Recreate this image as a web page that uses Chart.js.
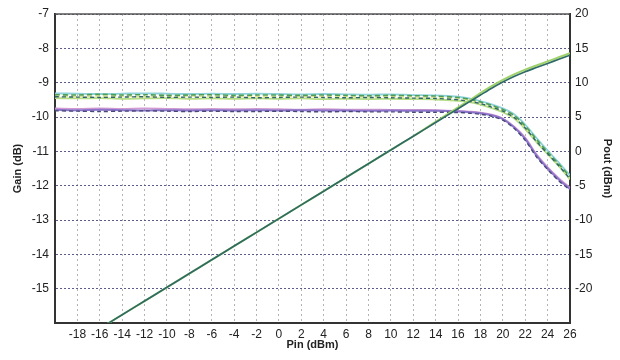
<!DOCTYPE html>
<html>
<head>
<meta charset="utf-8">
<script src="https://cdn.jsdelivr.net/npm/chart.js@4"></script>
<style>
body{margin:0;background:#fff}
#c{display:block}
</style>
</head>
<body>
<canvas id="c" width="620" height="360"></canvas>
<script>
// input power sweep (dBm)
const pin=[-20,-18,-16,-14,-12,-10,-8,-6,-4,-2,0,2,4,6,8,10,12,14,16,17,18,19,20,21,22,23,24,25,26]

// gain curves (dB), upper group
const gainA1=[-9.35,-9.36,-9.34,-9.36,-9.35,-9.37,-9.36,-9.35,-9.37,-9.36,-9.36,-9.37,-9.36,-9.37,-9.38,-9.37,-9.38,-9.39,-9.43,-9.48,-9.56,-9.66,-9.78,-9.95,-10.26,-10.65,-11.02,-11.37,-11.74]
const gainA2=[-9.41,-9.42,-9.43,-9.42,-9.41,-9.43,-9.42,-9.43,-9.42,-9.44,-9.43,-9.42,-9.43,-9.44,-9.43,-9.44,-9.45,-9.46,-9.5,-9.54,-9.61,-9.71,-9.83,-10.01,-10.32,-10.71,-11.07,-11.42,-11.8]
const gainA3=[-9.31,-9.32,-9.33,-9.32,-9.31,-9.32,-9.33,-9.32,-9.33,-9.32,-9.33,-9.34,-9.33,-9.34,-9.35,-9.34,-9.36,-9.37,-9.41,-9.46,-9.54,-9.63,-9.75,-9.92,-10.22,-10.61,-10.98,-11.33,-11.7]
const gainA4=[-9.45,-9.46,-9.45,-9.47,-9.46,-9.45,-9.47,-9.46,-9.47,-9.46,-9.47,-9.46,-9.48,-9.47,-9.48,-9.47,-9.48,-9.49,-9.53,-9.57,-9.64,-9.74,-9.86,-10.04,-10.35,-10.73,-11.08,-11.43,-11.82]
const gainA5=[-9.39,-9.4,-9.39,-9.4,-9.41,-9.4,-9.39,-9.4,-9.41,-9.4,-9.41,-9.4,-9.41,-9.41,-9.42,-9.41,-9.42,-9.43,-9.46,-9.51,-9.58,-9.68,-9.8,-9.98,-10.29,-10.68,-11.05,-11.4,-11.77]

// gain curves (dB), lower group
const gainB1=[-9.79,-9.8,-9.79,-9.8,-9.81,-9.8,-9.81,-9.8,-9.81,-9.8,-9.81,-9.8,-9.81,-9.81,-9.82,-9.81,-9.82,-9.82,-9.84,-9.86,-9.89,-9.95,-10.06,-10.3,-10.64,-11.12,-11.5,-11.82,-12.1]
const gainB2=[-9.75,-9.76,-9.75,-9.76,-9.75,-9.76,-9.77,-9.76,-9.77,-9.76,-9.77,-9.78,-9.77,-9.78,-9.78,-9.79,-9.79,-9.8,-9.82,-9.84,-9.87,-9.93,-10.04,-10.27,-10.6,-11.08,-11.46,-11.78,-12.06]
const gainB3=[-9.82,-9.83,-9.84,-9.83,-9.82,-9.83,-9.84,-9.83,-9.84,-9.84,-9.83,-9.84,-9.85,-9.84,-9.85,-9.85,-9.86,-9.86,-9.87,-9.89,-9.92,-9.98,-10.09,-10.33,-10.68,-11.16,-11.53,-11.86,-12.13]

// output power (dBm), right axis
const pout1=[-29.8,-27.8,-25.8,-23.8,-21.8,-19.8,-17.8,-15.8,-13.8,-11.8,-9.8,-7.8,-5.8,-3.8,-1.8,0.2,2.2,4.2,6.2,7.2,8.2,9.2,10.1,10.9,11.6,12.2,12.8,13.4,14.0]
const pout2=[-29.8,-27.8,-25.8,-23.8,-21.8,-19.8,-17.8,-15.8,-13.8,-11.8,-9.8,-7.8,-5.8,-3.8,-1.8,0.2,2.2,4.3,6.4,7.4,8.5,9.5,10.4,11.2,11.9,12.5,13.1,13.7,14.3]

// axis ranges
const gainMin=-16, gainMax=-7
const poutMin=-25, poutMax=20
const pinMin=-20, pinMax=26

function pts(vals){
return pin.map((x,i)=>({x:x,y:vals[i]}))
}

function ds(vals,color,width,dash,axis){
return {data:pts(vals),borderColor:color,borderWidth:width,borderDash:dash||[],
pointRadius:0,tension:0.3,fill:false,yAxisID:axis||'y'}
}

const font={family:'Liberation Sans, Arial, sans-serif',size:12}
const titleFont={family:'Liberation Sans, Arial, sans-serif',size:11,weight:'bold'}

// top border of the plot box
const frame={
id:'frame',
afterDraw(chart){
const a=chart.chartArea,ctx=chart.ctx
ctx.save()
ctx.strokeStyle='#555'
ctx.lineWidth=1.5
ctx.beginPath()
ctx.moveTo(a.left,a.top)
ctx.lineTo(a.right,a.top)
ctx.stroke()
ctx.restore()
}
}

// first dataset is drawn on top
new Chart(document.getElementById('c'),{
type:'line',
data:{datasets:[
ds(pout1,'#2f6a66',1.7,[],'y2'),
ds(pout2,'#9fd36a',2,[],'y2'),
ds(gainA2,'#2e6468',1.4,[4,3]),
ds(gainA1,'#4e9e56',1.6,[5,3]),
ds(gainA5,'#dfe28c',1.5,[5,3]),
ds(gainA3,'#8fd2dc',1.8),
ds(gainA4,'#b4dc84',1.8),
ds(gainB3,'#474a78',1.4,[4,3]),
ds(gainB1,'#8c74cc',2),
ds(gainB2,'#d29ad0',1.6)
]},
options:{
responsive:false,
animation:false,
layout:{padding:{top:14}},
plugins:{legend:{display:false},tooltip:{enabled:false}},
scales:{
x:{type:'linear',min:pinMin,max:pinMax,
afterFit(s){s.height=37},
ticks:{stepSize:2,padding:4,color:'#222',font:font,maxRotation:0,autoSkip:false,
callback:v=>v==pinMin?'':v},
grid:{color:'#b4b4b4',drawTicks:false,lineWidth:1},
border:{display:true,color:'#333',width:2,dash:[2,3]},
title:{display:true,text:'Pin (dBm)',color:'#222',font:titleFont,padding:{top:0,bottom:8}}
},
y:{position:'left',min:gainMin,max:gainMax,
afterFit(s){s.width=55},
ticks:{stepSize:1,padding:6,color:'#222',font:font,
callback:v=>v==gainMin?'':v},
grid:{color:'#5c5c8c',drawTicks:false,lineWidth:1},
border:{display:true,color:'#333',width:2,dash:[2,2]},
title:{display:true,text:'Gain (dB)',color:'#222',font:titleFont,padding:{top:11,bottom:0}}
},
y2:{position:'right',min:poutMin,max:poutMax,
afterFit(s){s.width=50},
ticks:{stepSize:5,padding:5,color:'#222',font:font,
callback:v=>v==poutMin?'':v},
grid:{drawOnChartArea:false,drawTicks:false},
border:{display:true,color:'#333',width:2},
title:{display:true,text:'Pout (dBm)',color:'#222',font:titleFont,padding:{top:6,bottom:0}}
}
}
},
plugins:[frame]
})
</script>
</body>
